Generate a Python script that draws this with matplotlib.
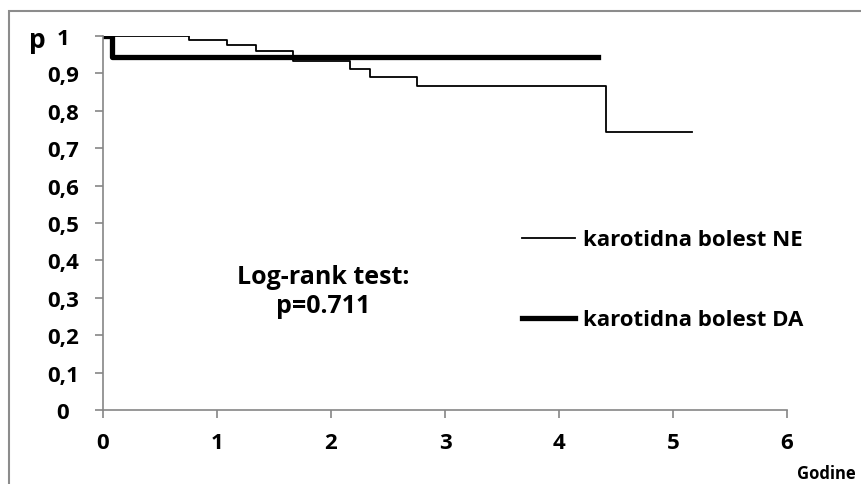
import matplotlib.pyplot as plt
from matplotlib.patches import Rectangle

# Kaplan-Meier step points
ne_t = [0, 0.75, 1.09, 1.34, 1.67, 2.17, 2.34, 2.75, 4.41, 5.17]
ne_p = [1.0, 0.989, 0.976, 0.961, 0.934, 0.911, 0.890, 0.867, 0.743, 0.743]
da_t = [0, 0.08, 4.34]
da_p = [1.0, 0.945, 0.945]

xticks = [0, 1, 2, 3, 4, 5, 6]
yticks = [0, 0.1, 0.2, 0.3, 0.4, 0.5, 0.6, 0.7, 0.8, 0.9, 1.0]
ylabels = ["0", "0,1", "0,2", "0,3", "0,4", "0,5", "0,6", "0,7", "0,8", "0,9", "1"]

plt.rcParams['font.family'] = ['Open Sans', 'DejaVu Sans']
plt.rcParams['font.weight'] = 'bold'

W, H = 861, 485
fig = plt.figure(figsize=(W / 100, H / 100), dpi=100)
ax = fig.add_axes([103 / W, 1 - 411 / H, (787 - 103) / W, (411 - 37) / H])

# chart area border (Excel style)
fig.patches.append(Rectangle((9 / W, -0.1), 1.2, 1 - 12 / H + 0.1, transform=fig.transFigure,
                             fill=False, edgecolor='#8c8c8c', lw=1.5))

ax.step(ne_t, ne_p, where='post', color='black', lw=1.3, label='karotidna bolest NE')
ax.step(da_t, da_p, where='post', color='black', lw=3.8, label='karotidna bolest DA')

ax.set_xlim(0, 6)
ax.set_ylim(0, 1)
ax.set_xticks(xticks)
ax.set_yticks(yticks)
ax.set_yticklabels(ylabels)
for s in ['top', 'right']:
    ax.spines[s].set_visible(False)
for s in ['left', 'bottom']:
    ax.spines[s].set_color('#868686')
    ax.spines[s].set_linewidth(1.2)
ax.tick_params(axis='both', colors='#868686', labelcolor='black', labelsize=16, length=6, width=1.2)
ax.tick_params(axis='x', pad=10)
ax.tick_params(axis='y', pad=23)
for lab in ax.get_xticklabels() + ax.get_yticklabels():
    lab.set_fontweight('bold')
for lab in ax.get_yticklabels():
    lab.set_horizontalalignment('center')

fig.text(37 / W, 1 - 40 / H, 'p', fontsize=19, fontweight='bold', ha='center', va='center')
fig.text(826 / W, 1 - 474 / H, 'Godine', fontsize=12, fontweight='bold', ha='center', va='center')

ax.text((323 - 103) / 684 * 6, (411 - 292) / 374, 'Log-rank test:\np=0.711', fontsize=18,
        fontweight='bold', ha='center', va='center', linespacing=1.25)

ax.legend(loc='center left', bbox_to_anchor=(0.6126, 0.348), frameon=False, borderaxespad=0, borderpad=0,
          handlelength=2.37, handletextpad=0.37, labelspacing=2.65, prop={'weight': 'bold', 'size': 16})

fig.savefig('out.png', dpi=100)
